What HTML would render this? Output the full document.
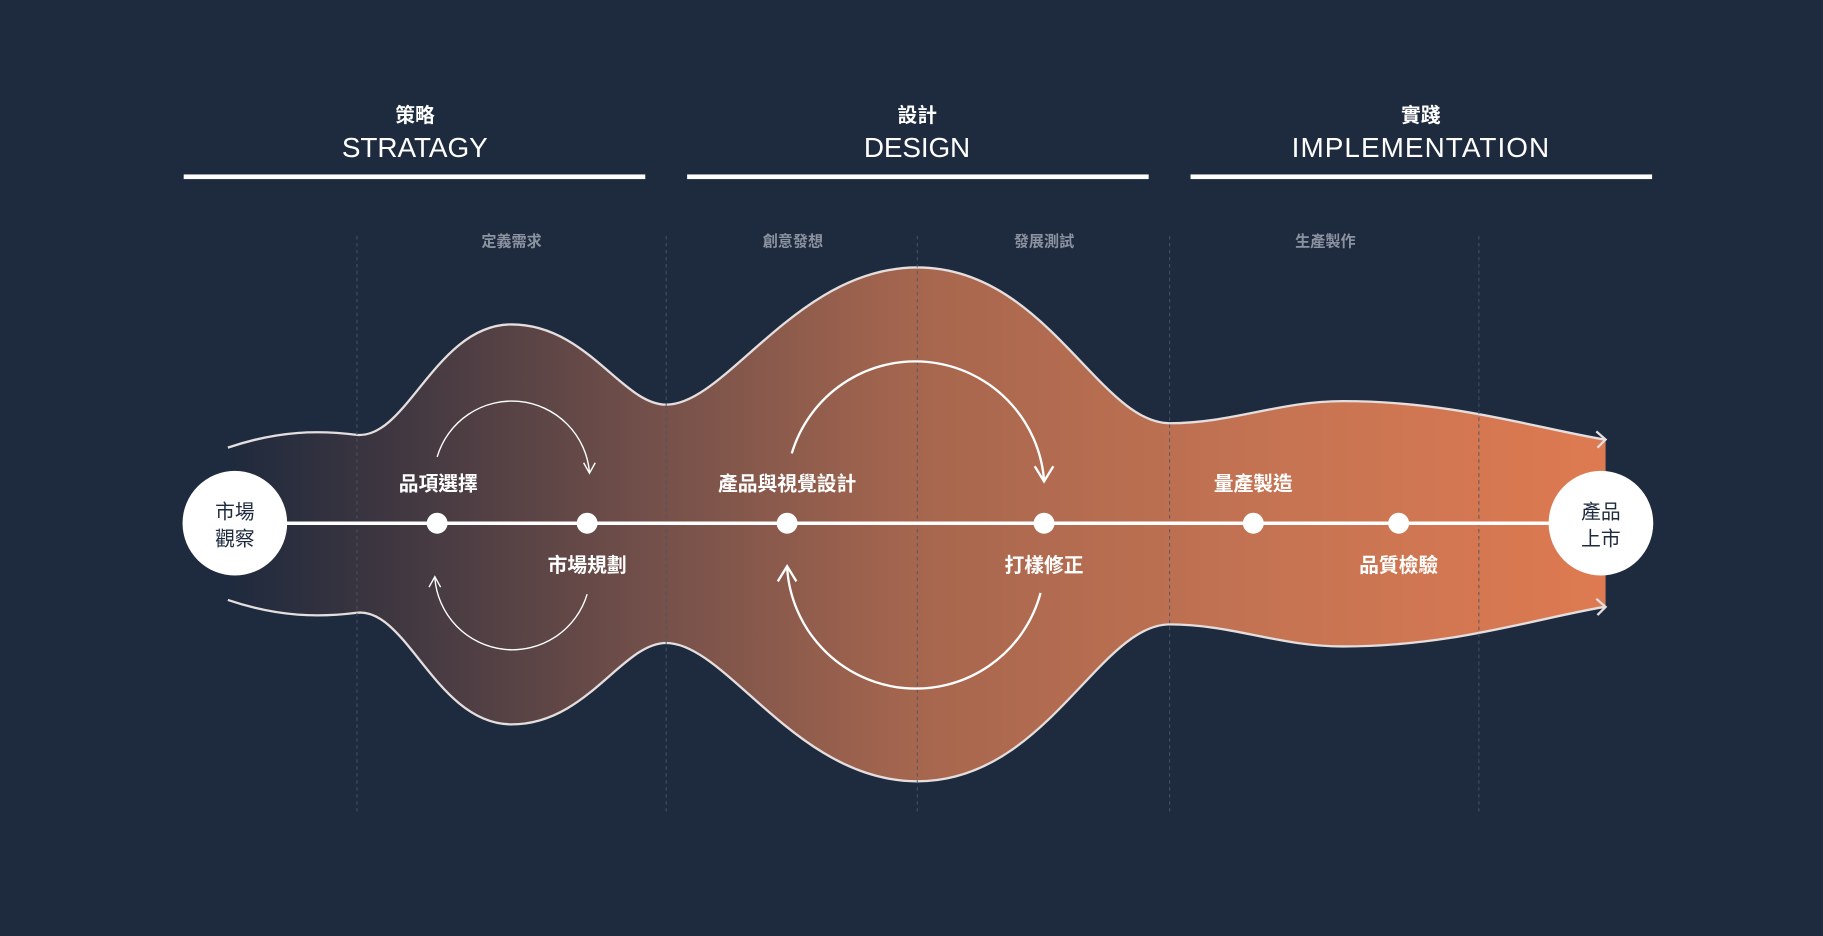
<!DOCTYPE html>
<html><head><meta charset="utf-8"><style>
html,body{margin:0;padding:0;background:#1e2a3e;}
svg{display:block;}
text{font-family:"Liberation Sans","Noto Sans CJK TC",sans-serif;}
</style></head><body>
<svg width="1823" height="936" viewBox="0 0 1568 805" xmlns="http://www.w3.org/2000/svg">
<defs>
<linearGradient id="g" x1="196" y1="0" x2="1381" y2="0" gradientUnits="userSpaceOnUse">
<stop offset="0" stop-color="#1e2a3e"/>
<stop offset="0.09" stop-color="#37333f"/>
<stop offset="0.31" stop-color="#74504a"/>
<stop offset="0.5" stop-color="#a6664e"/>
<stop offset="0.75" stop-color="#c47352"/>
<stop offset="1" stop-color="#de7a51"/>
</linearGradient>
</defs>
<rect width="1568" height="805" fill="#1e2a3e"/>
<g fill="#fff" text-anchor="middle">
<text x="357" y="105" font-size="17" font-weight="bold">策略</text>
<text x="357" y="135" font-size="24" letter-spacing="0.5" textLength="126">STRATAGY</text>
<text x="789" y="105" font-size="17" font-weight="bold">設計</text>
<text x="789" y="135" font-size="24" letter-spacing="0.5" textLength="92">DESIGN</text>
<text x="1222" y="105" font-size="17" font-weight="bold">實踐</text>
<text x="1222" y="135" font-size="24" letter-spacing="0.5" textLength="222">IMPLEMENTATION</text>
</g>
<rect x="158" y="150" width="397" height="4" fill="#fff"/>
<rect x="591" y="150" width="397" height="4" fill="#fff"/>
<rect x="1024" y="150" width="397" height="4" fill="#fff"/>
<path d="M196,385 C240,370 275,370 307,374 C350,378 375,279 440,279 C505,279 535,348 573,348 C625,348 685,230 789,230 C900,230 945,364 1006,364 C1060,364 1100,345 1155,345 C1250,345 1320,368 1381,378 L1381,522 C1320,532 1250,556 1155,556 C1100,556 1060,537 1006,537 C945,537 900,672 789,672 C685,672 625,553 573,553 C535,553 505,623 440,623 C375,623 350,522 307,527 C275,531 240,531 196,516 Z" fill="url(#g)"/>
<g fill="none" stroke="#e4dede" stroke-width="2">
<path d="M196,385 C240,370 275,370 307,374 C350,378 375,279 440,279 C505,279 535,348 573,348 C625,348 685,230 789,230 C900,230 945,364 1006,364 C1060,364 1100,345 1155,345 C1250,345 1320,368 1380,378"/>
<path d="M196,516 C240,531 275,531 307,527 C350,522 375,623 440,623 C505,623 535,553 573,553 C625,553 685,672 789,672 C900,672 945,537 1006,537 C1060,537 1100,556 1155,556 C1250,556 1320,532 1380,522"/>
<path d="M1373,371 L1381,378 L1374,385"/>
<path d="M1373,515 L1381,522 L1374,529"/>
</g>
<g stroke="#4a5568" stroke-width="1" stroke-dasharray="3,3" opacity="0.8">
<line x1="307" y1="203" x2="307" y2="700"/>
<line x1="573" y1="203" x2="573" y2="700"/>
<line x1="789" y1="203" x2="789" y2="700"/>
<line x1="1006" y1="203" x2="1006" y2="700"/>
<line x1="1272" y1="203" x2="1272" y2="700"/>
</g>
<g fill="#8b93a0" font-size="13" font-weight="bold" text-anchor="middle">
<text x="440" y="212">定義需求</text>
<text x="682" y="212">創意發想</text>
<text x="898" y="212">發展測試</text>
<text x="1140" y="212">生產製作</text>
</g>
<g fill="none" stroke="#fff">
<path d="M376,393 A67,67 0 0 1 507,406" stroke-width="1.2"/>
<path d="M502,398 L507,407 L512,398" stroke-width="1.2"/>
<path d="M505,511 A67,67 0 0 1 374,497" stroke-width="1.2"/>
<path d="M369,505 L374,496 L379,505" stroke-width="1.2"/>
<path d="M681,390 A111,111 0 0 1 898,413" stroke-width="2"/>
<path d="M890,401 L898,414 L906,401" stroke-width="2"/>
<path d="M895,510 A111,111 0 0 1 677,488" stroke-width="2"/>
<path d="M669,500 L677,487 L685,500" stroke-width="2"/>
</g>
<line x1="240" y1="450" x2="1340" y2="450" stroke="#fff" stroke-width="3"/>
<g fill="#fff">
<circle cx="376" cy="450" r="9"/><circle cx="505" cy="450" r="9"/>
<circle cx="677" cy="450" r="9"/><circle cx="898" cy="450" r="9"/>
<circle cx="1078" cy="450" r="9"/><circle cx="1203" cy="450" r="9"/>
<circle cx="202" cy="450" r="45"/><circle cx="1377" cy="450" r="45"/>
</g>
<g fill="#1e2a3e" font-size="17" text-anchor="middle">
<text x="202" y="446">市場</text><text x="202" y="469">觀察</text>
<text x="1377" y="446">產品</text><text x="1377" y="469">上市</text>
</g>
<g fill="#fff" font-size="17" font-weight="bold" text-anchor="middle">
<text x="377" y="422">品項選擇</text>
<text x="505" y="492">市場規劃</text>
<text x="677" y="422">產品與視覺設計</text>
<text x="898" y="492">打樣修正</text>
<text x="1078" y="422">量產製造</text>
<text x="1203" y="492">品質檢驗</text>
</g>
</svg>
</body></html>
